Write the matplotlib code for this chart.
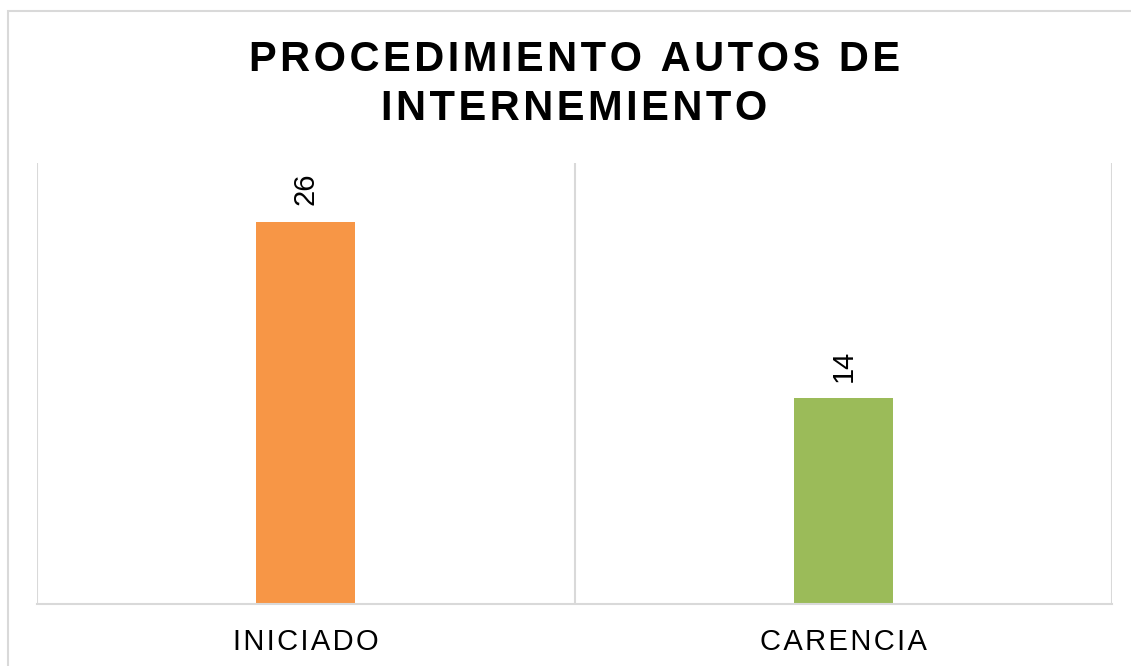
import matplotlib.pyplot as plt
from matplotlib.patches import Rectangle

categories = ["INICIADO", "CARENCIA"]
values = [26, 14]
colors = ["#F79646", "#9BBB59"]
title_lines = ["PROCEDIMIENTO AUTOS DE", "INTERNEMIENTO"]

plt.rcParams['font.family'] = ['Liberation Sans', 'DejaVu Sans']

HAIR = "\u200a"


def spaced(s):
    # rough letter spacing like the original chart
    return HAIR.join(s)


fig = plt.figure(figsize=(11.31, 6.66), dpi=100)
W, H = 1131, 666

# outer chart border (cut off at right/bottom like the original)
fig.patches.append(Rectangle((8 / W, -0.1), 1.2, 1 - 11 / H + 0.1,
                             transform=fig.transFigure, fill=False,
                             edgecolor="#D9D9D9", linewidth=1.5))

ax = fig.add_axes([37 / W, 1 - 604 / H, (1112 - 37) / W, (604 - 163) / H])
x = list(range(len(categories)))
ax.bar(x, values, width=0.185, color=colors, zorder=2)

ax.set_xlim(-0.5, len(categories) - 0.5)
ax.set_ylim(0, 30)
for xv in [-0.5, 0.5, 1.5]:
    ax.axvline(xv, color="#D9D9D9", linewidth=1.5, zorder=1)
for s in ["top", "left", "right"]:
    ax.spines[s].set_visible(False)
ax.spines["bottom"].set_color("#D9D9D9")
ax.spines["bottom"].set_linewidth(1.5)
ax.set_yticks([])
ax.set_xticks(x)
ax.set_xticklabels([spaced(c) for c in categories], fontsize=21, color="#000000")
ax.tick_params(axis="x", length=0, pad=17)

for xi, v in zip(x, values):
    ax.annotate(str(v), (xi, v), xytext=(0, 12), textcoords="offset points",
                rotation=90, ha="center", va="bottom", fontsize=21)

fig.text(574.5 / W, 1 - 40 / H, "\n".join(spaced(t) for t in title_lines),
         ha="center", va="top", fontsize=30, fontweight="bold",
         linespacing=1.3, color="#000000")

fig.savefig("out.png", dpi=100)
